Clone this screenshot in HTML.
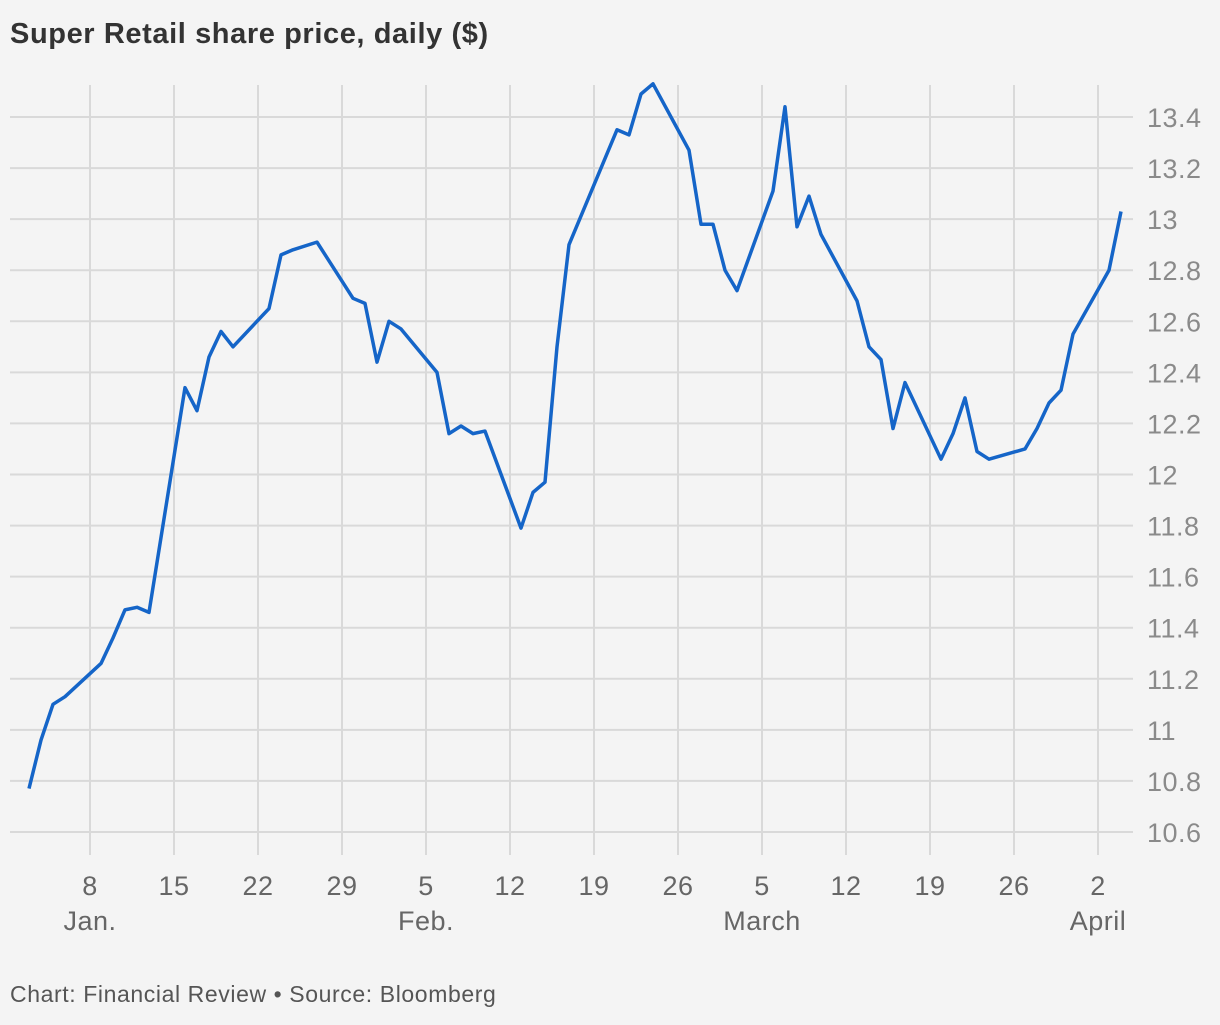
<!DOCTYPE html>
<html><head><meta charset="utf-8"><style>
html,body{margin:0;padding:0;background:#f4f4f4;}
body{width:1220px;height:1020px;overflow:hidden;font-family:"Liberation Sans",sans-serif;}
</style></head><body>
<svg width="1220" height="1020" xmlns="http://www.w3.org/2000/svg">
<rect width="1220" height="1020" fill="#f4f4f4"/>
<text x="10" y="43" font-size="29" font-weight="bold" letter-spacing="0.6" fill="#333">Super Retail share price, daily ($)</text>
<g id="grid"></g>
<g id="axes"></g>
<path id="line" fill="none" stroke="#1565c8" stroke-width="3.5" stroke-linejoin="round"/>
<text x="10" y="1002" font-size="23" letter-spacing="0.6" fill="#555">Chart: Financial Review • Source: Bloomberg</text>
</svg>
<script>
const days=[2,3,4,5,8,9,10,11,12,15,16,17,18,19,22,23,24,26,29,30,31,32,33,36,37,38,39,40,43,44,45,46,47,51,52,53,54,57,58,59,60,61,64,65,66,67,68,71,72,73,74,75,78,79,80,81,82,85,86,87,88,89,92,93];
const prices=[10.77,10.96,11.10,11.13,11.26,11.36,11.47,11.48,11.46,12.34,12.25,12.46,12.56,12.50,12.65,12.86,12.88,12.91,12.69,12.67,12.44,12.60,12.57,12.40,12.16,12.19,12.16,12.17,11.79,11.93,11.97,12.50,12.90,13.35,13.33,13.49,13.53,13.27,12.98,12.98,12.80,12.72,13.11,13.44,12.97,13.09,12.94,12.68,12.50,12.45,12.18,12.36,12.06,12.16,12.30,12.09,12.06,12.10,12.18,12.28,12.33,12.55,12.80,13.03];
const yTicks=[10.6,10.8,11,11.2,11.4,11.6,11.8,12,12.2,12.4,12.6,12.8,13,13.2,13.4];
const xTickDays=[7,14,21,28,35,42,49,56,63,70,77,84,91];
const xTickLabels=["8","15","22","29","5","12","19","26","5","12","19","26","2"];
const monthDays=[7,35,63,91];
const monthLabels=["Jan.","Feb.","March","April"];
const X=d=>5+12*d;
const GX=d=>6+12*d;
const Y=v=>117+(13.4-v)*255.36;
const NS="http://www.w3.org/2000/svg";
const grid=document.getElementById('grid'),axes=document.getElementById('axes');
function mk(tag,attrs,parent,txt){const e=document.createElementNS(NS,tag);for(const k in attrs)e.setAttribute(k,attrs[k]);if(txt!=null)e.textContent=txt;parent.appendChild(e);return e;}
yTicks.forEach(v=>{
  const l=mk('line',{x1:10,x2:1133,y1:Y(v),y2:Y(v),stroke:'#d9d9d9','stroke-width':2},grid);
  
  
  const t=mk('text',{x:1147,y:Y(v)+10,'font-size':27,'letter-spacing':0.5,fill:'#8a8a8a'},axes,String(v));
  
  
});
xTickDays.forEach((d,i)=>{
  const l=mk('line',{x1:GX(d),x2:GX(d),y1:85,y2:855,stroke:'#d9d9d9','stroke-width':2},grid);
  
  
  const t=mk('text',{x:GX(d),y:895,'font-size':27,'letter-spacing':0.5,fill:'#666','text-anchor':'middle'},axes,xTickLabels[i]);
  
  
});
monthDays.forEach((d,i)=>{
  const t=mk('text',{x:GX(d),y:930,'font-size':27,'letter-spacing':0.5,fill:'#666','text-anchor':'middle'},axes,monthLabels[i]);
  
  
});
document.getElementById('line').setAttribute('d',days.map((d,i)=>(i?'L':'M')+X(d)+','+Y(prices[i])).join(' '));
</script>
</body></html>
